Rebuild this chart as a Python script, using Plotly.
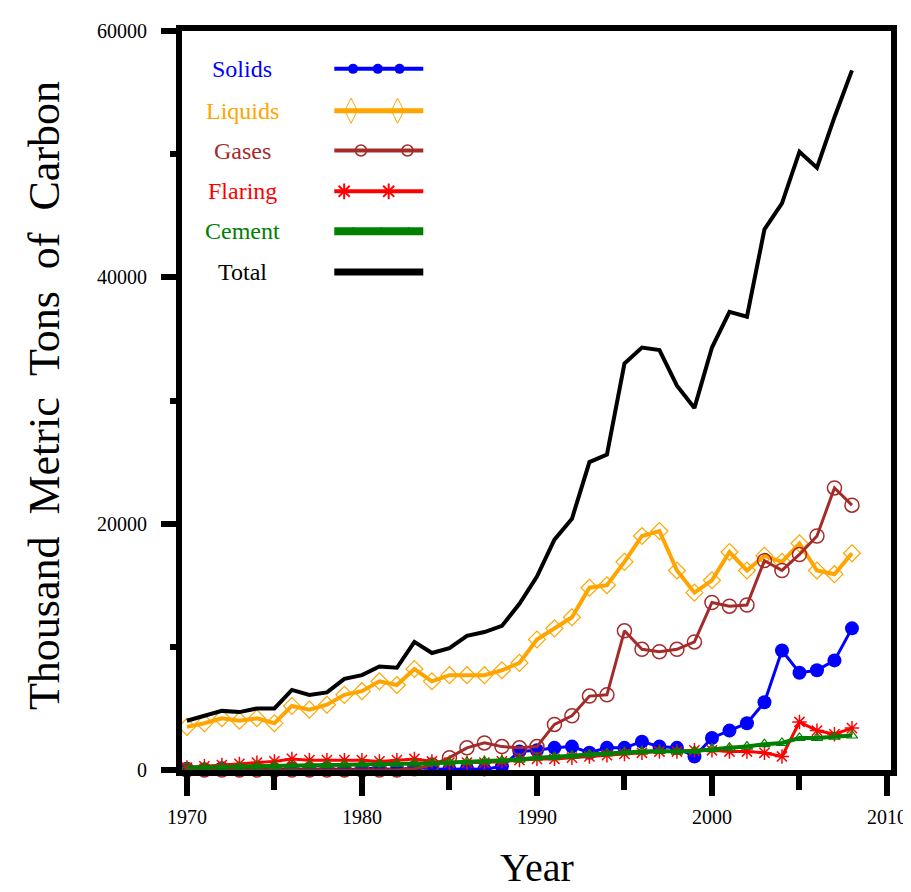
import plotly.graph_objects as go

years = list(range(1970, 2009))

solids = [100, 0, 150, 0, 100, 0, 100, 0, 150, 0, 100, 150, 0, 200, 100, 50, 100, 50, 300,
          1500, 1600, 1800, 1900, 1400, 1800, 1800, 2300, 1900, 1800, 1100,
          2600, 3200, 3800, 5500, 9700, 7900, 8100, 8900, 11500]

liquids = [3500, 3800, 4200, 4000, 4200, 3800, 5200, 4900, 5300, 6100, 6400, 7200, 6900, 8200,
           7200, 7700, 7700, 7700, 8100, 8700, 10600, 11500, 12400, 14800, 15000, 16900,
           19000, 19400, 16200, 14400, 15400, 17700, 16200, 17400, 16900, 18400, 16200,
           15900, 17600]

gases = [0, 0, 0, 0, 0, 0, 0, 0, 0, 0, 0, 0, 0, 100, 400, 1000, 1800, 2200, 1900, 1800,
         1900, 3700, 4400, 6000, 6100, 11300, 9800, 9600, 9800, 10400, 13600, 13300, 13400,
         17000, 16200, 17500, 19000, 22900, 21500]

flaring = [200, 300, 400, 500, 600, 700, 900, 800, 800, 800, 800, 700, 800, 900, 700, 600,
           600, 600, 700, 800, 900, 900, 1000, 1100, 1200, 1300, 1400, 1500, 1500, 1600,
           1600, 1500, 1500, 1400, 1100, 3900, 3200, 2900, 3400]

cement = [200, 220, 250, 280, 300, 320, 350, 380, 400, 430, 450, 480, 500, 520, 550, 600,
          650, 700, 750, 850, 1000, 1050, 1150, 1250, 1350, 1450, 1500, 1550, 1500, 1550,
          1700, 1800, 1900, 2100, 2200, 2600, 2600, 2700, 2800]

total = [4000, 4400, 4800, 4700, 5000, 5000, 6500, 6100, 6300, 7400, 7700, 8400, 8300, 10400,
         9500, 9900, 10900, 11200, 11700, 13500, 15700, 18700, 20400, 25000, 25600, 33000,
         34300, 34100, 31200, 29400, 34300, 37200, 36800, 43900, 46000, 50200, 48900, 53000,
         56800]

x_ticks = [1970, 1980, 1990, 2000, 2010]
y_ticks = [0, 20000, 40000, 60000]
y_ticktext = ["0", "20000", "40000", "60000"]

names = ["Solids", "Liquids", "Gases", "Flaring", "Cement", "Total"]
colors = ["#0000FF", "#FFA500", "#A52A2A", "#FF0000", "#008000", "#000000"]

W, H = 911, 892
ML, MR, MT, MB = 174, 20, 20, 130
PW, PH = W - ML - MR, H - MT - MB
SERIF = "Liberation Serif, Times New Roman, serif"

fig = go.Figure()

series = [
    (solids, dict(width=3), dict(symbol="circle", size=14, color=colors[0])),
    (liquids, dict(width=4), dict(symbol="diamond-open", size=13, color=colors[1], line=dict(width=1.2, color=colors[1]))),
    (gases, dict(width=3), dict(symbol="circle-open", size=14, color=colors[2], line=dict(width=1.5, color=colors[2]))),
    (flaring, dict(width=3), dict(symbol="asterisk-open", size=12, color=colors[3], line=dict(width=1.5, color=colors[3]))),
    (cement, dict(width=4), dict(symbol="triangle-up-open", size=10, color=colors[4], line=dict(width=1.2, color=colors[4]))),
    (total, dict(width=4), None),
]
for (vals, ln, mk), name, col in zip(series, names, colors):
    ln = dict(ln, color=col)
    if mk is None:
        fig.add_trace(go.Scatter(x=years, y=vals, mode="lines", line=ln, name=name,
                                 showlegend=False, cliponaxis=False))
    else:
        fig.add_trace(go.Scatter(x=years, y=vals, mode="lines+markers", line=ln, marker=mk,
                                 name=name, showlegend=False, cliponaxis=False))

# manual legend (text on the left, sample on the right) on an overlay pixel-fraction axis
def fx(px):
    return (px - ML) / PW

def fy(py):
    return (H - MB - py) / PH

leg_rows = [58, 100, 140, 181, 221, 262]
leg_text_x = 235
leg_line = (328, 418)
leg_marks = [
    ([347, 372, 394], dict(symbol="circle", size=10, color=colors[0]), 4),
    ([345, 392], dict(symbol="diamond-tall-open", size=18, color=colors[1], line=dict(width=1, color=colors[1])), 5),
    ([355, 402], dict(symbol="circle-open", size=11, color=colors[2], line=dict(width=1.5, color=colors[2])), 4),
    ([338, 383], dict(symbol="asterisk-open", size=13, color=colors[3], line=dict(width=2, color=colors[3])), 4),
    ([347, 375, 403], dict(symbol="triangle-up", size=9, color=colors[4]), 8),
    ([], None, 7),
]
for row, (mx, mk, lw), name, col in zip(leg_rows, leg_marks, names, colors):
    fig.add_trace(go.Scatter(x=[fx(leg_line[0]), fx(leg_line[1])], y=[fy(row), fy(row)],
                             mode="lines", line=dict(color=col, width=lw),
                             xaxis="x2", yaxis="y2", showlegend=False, hoverinfo="skip"))
    if mx:
        fig.add_trace(go.Scatter(x=[fx(v) for v in mx], y=[fy(row)] * len(mx), mode="markers",
                                 marker=mk, xaxis="x2", yaxis="y2", showlegend=False, hoverinfo="skip"))
    fig.add_annotation(x=fx(leg_text_x), y=fy(row), xref="paper", yref="paper", text=name,
                       showarrow=False, font=dict(family=SERIF, size=24, color=col),
                       xanchor="center", yanchor="middle")

fig.add_annotation(x=fx(35), y=fy(386), xref="paper", yref="paper",
                   text="Thousand  Metric  Tons  of  Carbon", textangle=-90, showarrow=False,
                   font=dict(family=SERIF, size=44, color="black"), xanchor="center", yanchor="middle")
fig.add_annotation(x=fx(533), y=fy(860), xref="paper", yref="paper", text="Year", showarrow=False,
                   font=dict(family=SERIF, size=40, color="black"), xanchor="center", yanchor="middle")

fig.update_layout(
    width=W, height=H,
    margin=dict(l=ML, r=MR, t=MT, b=MB),
    paper_bgcolor="white", plot_bgcolor="white",
    showlegend=False,
    xaxis=dict(range=[1969.72, 2010.23], tickmode="array", tickvals=x_ticks,
               ticks="outside", ticklen=20, tickwidth=6, tickcolor="black",
               minor=dict(tickvals=[1975, 1985, 1995, 2005], ticks="outside", ticklen=14, tickwidth=6, tickcolor="black"),
               showline=True, linewidth=6, linecolor="black", mirror=True,
               showgrid=False, zeroline=False, ticklabelstandoff=4,
               tickfont=dict(family=SERIF, size=20, color="black")),
    yaxis=dict(range=[0, 60000], tickmode="array", tickvals=y_ticks, ticktext=y_ticktext,
               ticks="outside", ticklen=15, tickwidth=6, tickcolor="black",
               minor=dict(tickvals=[10000, 30000, 50000], ticks="outside", ticklen=6, tickwidth=6, tickcolor="black"),
               showline=True, linewidth=6, linecolor="black", mirror=True,
               showgrid=False, zeroline=False, ticklabelstandoff=10,
               tickfont=dict(family=SERIF, size=20, color="black")),
    xaxis2=dict(domain=[0, 1], range=[0, 1], overlaying="x", visible=False, anchor="y2"),
    yaxis2=dict(domain=[0, 1], range=[0, 1], overlaying="y", visible=False, anchor="x2"),
)

fig.write_html("out.html")
